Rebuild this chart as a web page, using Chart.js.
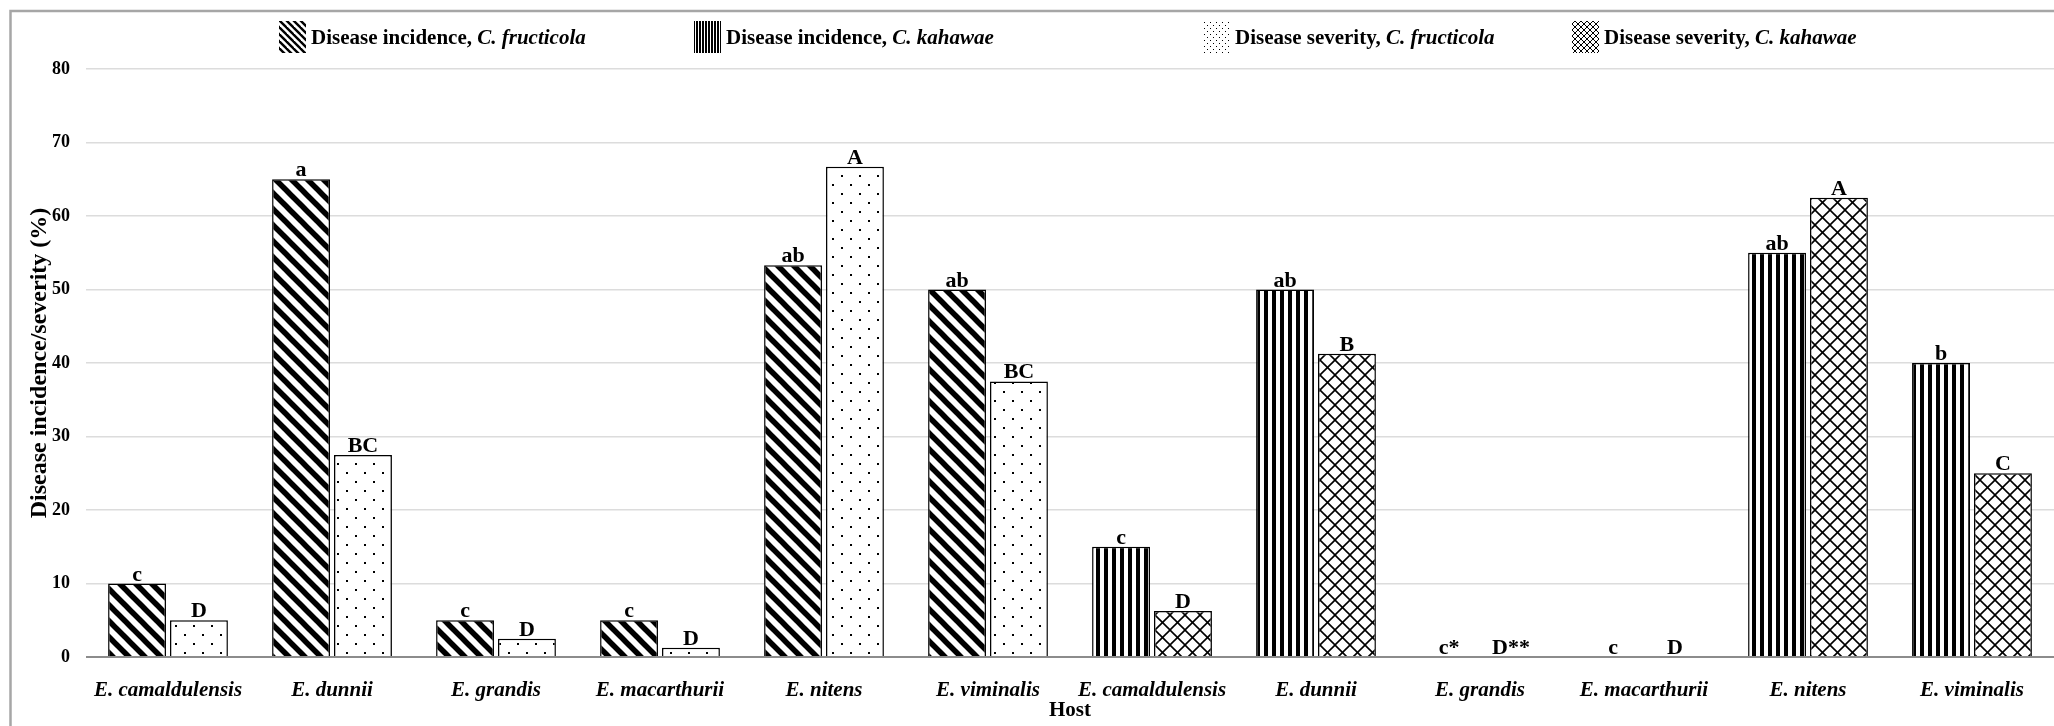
<!DOCTYPE html>
<html><head><meta charset="utf-8">
<script src="https://cdn.jsdelivr.net/npm/chart.js@4.4.1/dist/chart.umd.min.js"></script>
<style>html,body{margin:0;padding:0;background:#fff;} #wrap{width:2054px;height:726px;}</style>
</head><body><div id="wrap"><canvas id="c" width="2054" height="726"></canvas></div>
<script>
const categories = ['E. camaldulensis','E. dunnii','E. grandis','E. macarthurii','E. nitens','E. viminalis',
                    'E. camaldulensis','E. dunnii','E. grandis','E. macarthurii','E. nitens','E. viminalis'];
const seriesNames = ['Disease incidence, C. fructicola','Disease incidence, C. kahawae',
                     'Disease severity, C. fructicola','Disease severity, C. kahawae'];
const incidenceFructicola = [10, 65, 5, 5, 53.3, 50, null, null, null, null, null, null];
const incidenceKahawae    = [null, null, null, null, null, null, 15, 50, 0, 0, 55, 40];
const severityFructicola  = [5, 27.5, 2.5, 1.25, 66.7, 37.5, null, null, null, null, null, null];
const severityKahawae     = [null, null, null, null, null, null, 6.25, 41.25, 0, 0, 62.5, 25];
const lettersIncF = ['c','a','c','c','ab','ab', null,null,null,null,null,null];
const lettersIncK = [null,null,null,null,null,null, 'c','ab','c*','c','ab','b'];
const lettersSevF = ['D','BC','D','D','A','BC', null,null,null,null,null,null];
const lettersSevK = [null,null,null,null,null,null, 'D','B','D**','D','A','C'];
const yTickValues = [0,10,20,30,40,50,60,70,80];

const SERIF = "'Liberation Serif','Times New Roman',serif";

function makePattern(kind, p) {
  const c = document.createElement('canvas');
  const T = p.T;
  c.width = T; c.height = T;
  const g = c.getContext('2d');
  g.fillStyle = '#fff'; g.fillRect(0,0,T,T);
  g.fillStyle = '#000'; g.strokeStyle = '#000';
  if (kind === 'diag') {
    g.lineWidth = p.lw;
    for (let k=-1;k<=1;k++){ g.beginPath(); g.moveTo(k*T - T, -T); g.lineTo(k*T + 2*T, 2*T); g.stroke(); }
  } else if (kind === 'vert') {
    g.fillRect(0,0,p.bw,T);
  } else if (kind === 'dots') {
    g.fillRect(p.o, p.o, p.d, p.d);
    g.fillRect(p.o + T/2, p.o + T/2, p.d, p.d);
  } else if (kind === 'cross') {
    g.lineWidth = p.lw;
    for (let k=-1;k<=1;k++){
      g.beginPath(); g.moveTo(k*T - T, -T); g.lineTo(k*T + 2*T, 2*T); g.stroke();
      g.beginPath(); g.moveTo(k*T + 2*T, -T); g.lineTo(k*T - T, 2*T); g.stroke();
    }
  }
  return document.getElementById('c').getContext('2d').createPattern(c, 'repeat');
}
const barPatterns = [
  makePattern('diag', {T:16, lw:5.5}),
  makePattern('vert', {T:8, bw:4}),
  makePattern('dots', {T:18, o:4, d:2}),
  makePattern('cross', {T:15, lw:1.6})
];
const legendPatterns = [
  makePattern('diag', {T:7, lw:2.4}),
  makePattern('vert', {T:3, bw:2}),
  makePattern('dots', {T:6, o:1, d:1}),
  makePattern('cross', {T:6, lw:1})
];

const bgPlugin = {
  id: 'bg',
  beforeDraw(chart) {
    const ctx = chart.ctx;
    ctx.save();
    ctx.fillStyle = '#fff';
    ctx.fillRect(0,0,chart.width,chart.height);
    ctx.strokeStyle = '#a6a6a6';
    ctx.lineWidth = 2.5;
    ctx.beginPath();
    ctx.moveTo(10.5, chart.height); ctx.lineTo(10.5, 11); ctx.lineTo(chart.width, 11);
    ctx.stroke();
    ctx.restore();
  }
};

const legendPlugin = {
  id: 'customLegend',
  afterDraw(chart, args, opts) {
    const ctx = chart.ctx;
    ctx.save();
    chart.data.datasets.forEach((ds, i) => {
      const x = opts.xs[i];
      ctx.fillStyle = legendPatterns[i];
      ctx.fillRect(x, opts.boxTop, opts.boxW, opts.boxH);
      const idx = ds.label.indexOf(', ');
      const part1 = ds.label.slice(0, idx + 2);
      const part2 = ds.label.slice(idx + 2);
      ctx.fillStyle = '#000';
      ctx.textBaseline = 'alphabetic';
      ctx.textAlign = 'left';
      let tx = x + opts.boxW + opts.gap;
      ctx.font = 'bold ' + opts.size + 'px ' + SERIF;
      ctx.fillText(part1, tx, opts.baseline);
      tx += ctx.measureText(part1).width;
      ctx.font = 'italic bold ' + opts.size + 'px ' + SERIF;
      ctx.fillText(part2, tx, opts.baseline);
    });
    ctx.restore();
  }
};

const letterPlugin = {
  id: 'letters',
  afterDatasetsDraw(chart) {
    const ctx = chart.ctx;
    ctx.save();
    ctx.fillStyle = '#000';
    ctx.font = 'bold 22px ' + SERIF;
    ctx.textAlign = 'center';
    ctx.textBaseline = 'alphabetic';
    chart.data.datasets.forEach((ds, i) => {
      const meta = chart.getDatasetMeta(i);
      meta.data.forEach((el, j) => {
        const t = ds.letters[j];
        if (t == null || ds.data[j] == null) return;
        ctx.fillText(t, el.x, el.y - 3);
      });
    });
    ctx.restore();
  }
};

const common = {borderColor:'#000', borderWidth:1.5, borderSkipped:'bottom'};
new Chart(document.getElementById('c'), {
  type: 'bar',
  data: {
    labels: categories,
    datasets: [
      Object.assign({label: seriesNames[0], data: incidenceFructicola, backgroundColor: barPatterns[0], letters: lettersIncF}, common),
      Object.assign({label: seriesNames[1], data: incidenceKahawae, backgroundColor: barPatterns[1], letters: lettersIncK}, common),
      Object.assign({label: seriesNames[2], data: severityFructicola, backgroundColor: barPatterns[2], letters: lettersSevF}, common),
      Object.assign({label: seriesNames[3], data: severityKahawae, backgroundColor: barPatterns[3], letters: lettersSevK}, common)
    ]
  },
  options: {
    responsive: false, animation: false, devicePixelRatio: 1,
    layout: {padding: {top: 69, left: 0, right: 0, bottom: 0}},
    datasets: {bar: {skipNull: true, categoryPercentage: 0.755, barPercentage: 0.935}},
    plugins: {
      legend: {display: false},
      tooltip: {enabled: false},
      customLegend: {xs: [279, 694, 1203, 1572], boxTop: 21, boxW: 27, boxH: 32, gap: 5, size: 21, baseline: 44}
    },
    scales: {
      x: {
        grid: {display: false}, border: {display: false},
        ticks: {font: {family: SERIF, size: 21, style: 'italic', weight: 'bold', lineHeight: 1.2}, color: '#000', padding: 13, maxRotation: 0, autoSkip: false},
        title: {display: true, text: 'Host', font: {family: SERIF, size: 21, weight: 'bold', lineHeight: 1.2}, color: '#000', padding: {top: 0, bottom: 3}},
        afterFit(s) { s.height = 69; }
      },
      y: {
        min: yTickValues[0], max: yTickValues[yTickValues.length - 1],
        afterBuildTicks(s) { s.ticks = yTickValues.map(v => ({value: v})); },
        ticks: {font: {family: SERIF, size: 18, weight: 'bold'}, color: '#000', padding: 16},
        grid: {drawTicks: false,
               color: c => (c.tick && c.tick.value === 0) ? '#8c8c8c' : '#dcdcdc',
               lineWidth: c => (c.tick && c.tick.value === 0) ? 2 : 1.5},
        border: {display: false},
        title: {display: true, text: 'Disease incidence/severity (%)', font: {family: SERIF, size: 24, weight: 'bold', lineHeight: 1.2}, color: '#000', padding: {top: 25, bottom: 0}},
        afterFit(s) { s.width = 86; }
      }
    }
  },
  plugins: [bgPlugin, legendPlugin, letterPlugin]
});
</script>
</body></html>
